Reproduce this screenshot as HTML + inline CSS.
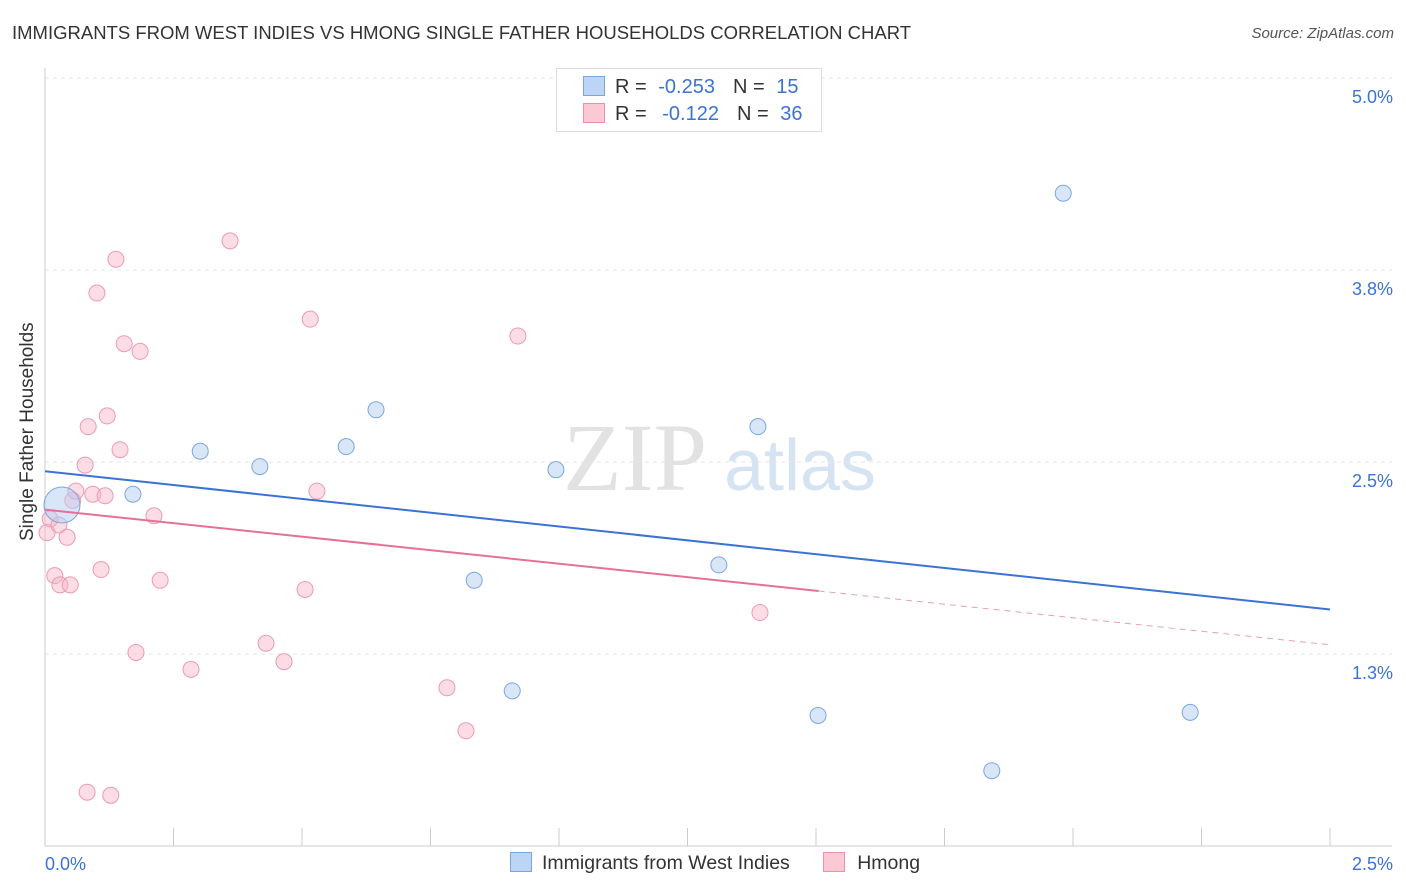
<!DOCTYPE html>
<html><head><meta charset="utf-8">
<style>
body{margin:0;background:#fff;font-family:"Liberation Sans",sans-serif;}
#wrap{position:relative;width:1406px;height:892px;overflow:hidden;}
.t{position:absolute;white-space:nowrap;}
</style></head>
<body>
<div id="wrap">
<div class="t" style="left:12px;top:22px;font-size:18.5px;color:#333;">IMMIGRANTS FROM WEST INDIES VS HMONG SINGLE FATHER HOUSEHOLDS CORRELATION CHART</div>
<div class="t" style="right:12px;top:25px;font-size:15px;color:#555;font-style:italic;">Source: ZipAtlas.com</div>
<svg id="chart" width="1406" height="892" style="position:absolute;left:0;top:0;" xmlns="http://www.w3.org/2000/svg">
<text x="635" y="490" font-size="96" font-family="Liberation Serif,serif" fill="#e2e2e2" text-anchor="middle">ZIP</text>
<text x="800" y="490" font-size="72" font-family="Liberation Sans,sans-serif" fill="#d6e3f3" text-anchor="middle">atlas</text>
</svg>
<div class="t" style="left:-57px;top:445px;font-size:19px;color:#333;transform:rotate(-90deg);width:170px;text-align:center;">Single Father Households</div>
<div style="position:absolute;left:556px;top:68px;width:264px;height:62px;border:1px solid #ddd;background:#fff;font-size:20px;">
 <div style="position:absolute;left:26px;top:7px;"><span style="display:inline-block;width:20px;height:18px;background:#bcd5f5;border:1px solid #7aa7e0;vertical-align:-3px;"></span><span style="color:#333;margin-left:10px;">R = </span><span style="color:#3b73d4;margin-left:6px;">-0.253</span><span style="color:#333;margin-left:18px;">N = </span><span style="color:#3b73d4;margin-left:6px;">15</span></div>
 <div style="position:absolute;left:26px;top:34px;"><span style="display:inline-block;width:20px;height:18px;background:#fbc8d6;border:1px solid #ec8fae;vertical-align:-3px;"></span><span style="color:#333;margin-left:10px;">R = </span><span style="color:#3b73d4;margin-left:10px;">-0.122</span><span style="color:#333;margin-left:18px;">N = </span><span style="color:#3b73d4;margin-left:6px;">36</span></div>
</div>
<div style="position:absolute;left:510px;top:852px;font-size:19.5px;color:#333;">
 <span><span style="display:inline-block;width:20px;height:18px;background:#bcd5f5;border:1px solid #7aa7e0;vertical-align:-3px;"></span><span style="margin-left:10px;">Immigrants from West Indies</span></span>
 <span style="margin-left:28px;"><span style="display:inline-block;width:20px;height:18px;background:#fbc8d6;border:1px solid #ec8fae;vertical-align:-3px;"></span><span style="margin-left:12px;">Hmong</span></span>
</div>
</div>
<script>
const yTicks=[1.25,2.5,3.75,5.0];
const yTickLabels=["1.3%","2.5%","3.8%","5.0%"];
const xTicks=[0,0.25,0.5,0.75,1,1.25,1.5,1.75,2,2.25,2.5];
const xTickLabels=["0.0%","2.5%"];
const blueX=[0.033,0.171,0.302,0.418,0.586,0.644,0.994,0.835,0.909,1.311,1.387,1.504,1.842,1.981,2.228];
const blueY=[2.22,2.29,2.57,2.47,2.60,2.84,2.45,1.73,1.01,1.83,2.73,0.85,0.49,4.25,0.87];
const blueR=[18,8,8,8,8,8,8,8,8,8,8,8,8,8,8];
const pinkX=[0.010,0.004,0.019,0.029,0.049,0.054,0.027,0.043,0.060,0.078,0.084,0.093,0.101,0.117,0.121,0.138,0.146,0.154,0.185,0.109,0.212,0.224,0.177,0.284,0.360,0.430,0.465,0.506,0.516,0.529,0.782,0.819,0.920,1.391,0.082,0.128];
const pinkY=[2.13,2.04,1.76,1.70,1.70,2.25,2.09,2.01,2.31,2.48,2.73,2.29,3.60,2.28,2.80,3.82,2.58,3.27,3.22,1.80,2.15,1.73,1.26,1.15,3.94,1.32,1.20,1.67,3.43,2.31,1.03,0.75,3.32,1.52,0.35,0.33];
const blueTrend=[2.44,1.54];
const pinkTrend=[2.19,1.31];
const pinkSolidEnd=1.505;

const X0=45,X1=1330,Y0=846,YPX=153.6;
const sx=v=>X0+(v/2.5)*(X1-X0);
const sy=v=>Y0-v*YPX;
const svgEl=document.getElementById('chart');
const NS='http://www.w3.org/2000/svg';
function mk(tag,attrs){const e=document.createElementNS(NS,tag);for(const k in attrs)e.setAttribute(k,attrs[k]);svgEl.appendChild(e);return e;}
yTicks.forEach((t,i)=>{
 const g=mk('line',{x1:X0,x2:1392,y1:sy(t),y2:sy(t),stroke:'#e4e4e4','stroke-dasharray':'4,4'});
 
 
 const l=mk('text',{x:1393,y:sy(t)+25,'font-size':18,fill:'#3b73d4','text-anchor':'end'});
 l.textContent=yTickLabels[i];
 
 
});
const ya=mk('line',{x1:X0,x2:X0,y1:68,y2:846,stroke:'#ccc'});


const xa=mk('line',{x1:X0,x2:1392,y1:846,y2:846,stroke:'#ccc'});


xTicks.forEach(t=>{
 const e=mk('line',{x1:sx(t),x2:sx(t),y1:828,y2:846,stroke:'#ccc'});
 
 
});
const xl0=mk('text',{x:45,y:870,'font-size':18,fill:'#3b73d4'});xl0.textContent=xTickLabels[0];


const xl1=mk('text',{x:1393,y:870,'font-size':18,fill:'#3b73d4','text-anchor':'end'});xl1.textContent=xTickLabels[1];



pinkX.forEach((x,i)=>{
 const c=mk('circle',{cx:sx(x),cy:sy(pinkY[i]),r:8,fill:'rgba(248,180,200,0.45)',stroke:'#ec9ab5','stroke-width':1});
 
 
});
blueX.forEach((x,i)=>{
 const c=mk('circle',{cx:sx(x),cy:sy(blueY[i]),r:blueR[i],fill:'rgba(180,206,242,0.5)',stroke:'#7aa7e0','stroke-width':1});
 
 
});
const pAt=v=>pinkTrend[0]+(pinkTrend[1]-pinkTrend[0])*v/2.5;
const bt=mk('line',{x1:sx(0),y1:sy(blueTrend[0]),x2:sx(2.5),y2:sy(blueTrend[1]),stroke:'#3b73d4','stroke-width':2});


const pt=mk('line',{x1:sx(0),y1:sy(pAt(0)),x2:sx(pinkSolidEnd),y2:sy(pAt(pinkSolidEnd)),stroke:'#e5709a','stroke-width':2});


const pd=mk('line',{x1:sx(pinkSolidEnd),y1:sy(pAt(pinkSolidEnd)),x2:sx(2.5),y2:sy(pAt(2.5)),stroke:'#e5a0b8','stroke-width':1,'stroke-dasharray':'6,5'});


</script>
</body></html>
